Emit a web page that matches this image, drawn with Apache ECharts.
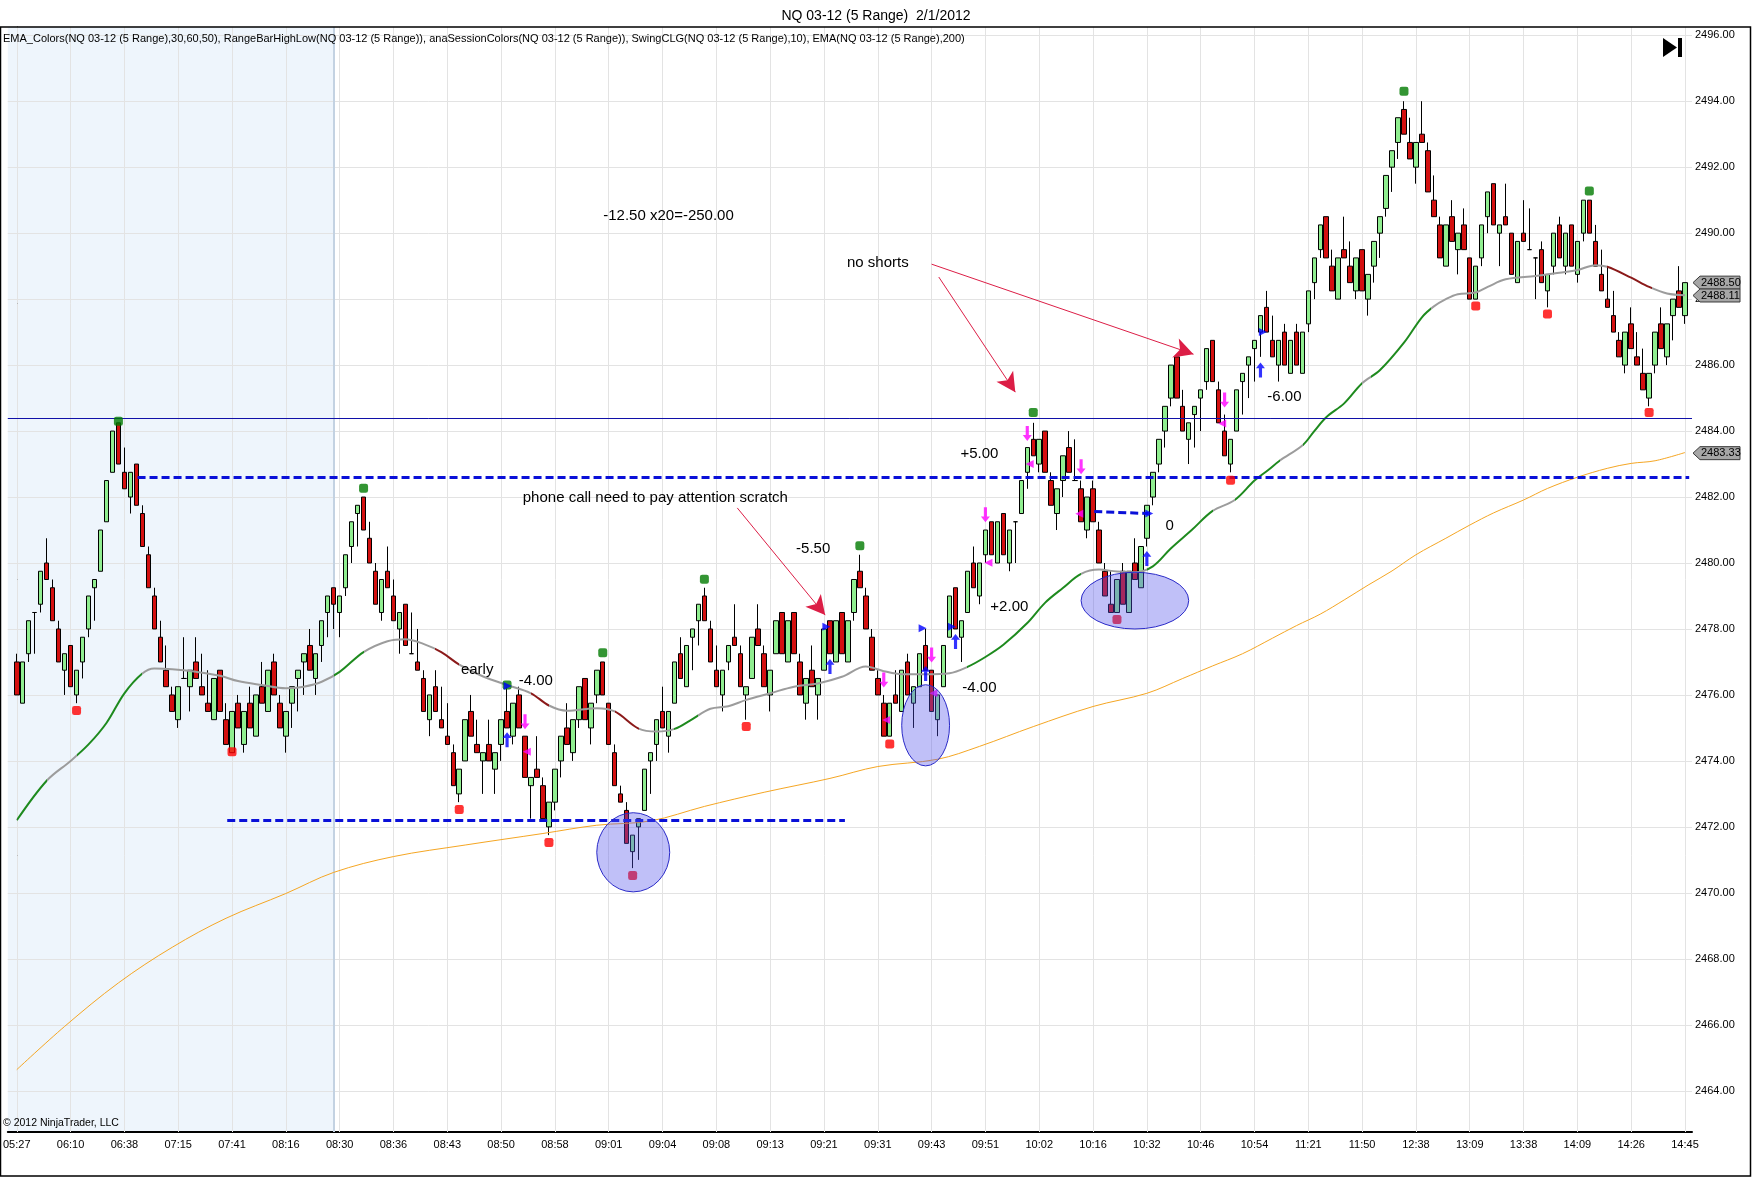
<!DOCTYPE html>
<html><head><meta charset="utf-8">
<script src="https://cdn.jsdelivr.net/npm/echarts@6/dist/echarts.min.js"></script>
<style>html,body{margin:0;padding:0;background:#fff;}#c{width:1752px;height:1177px;}</style>
</head><body><div id="c"></div>
<script>
// ---------- data ----------
const chartTitle = 'NQ 03-12 (5 Range)  2/1/2012';
const indicatorText = 'EMA_Colors(NQ 03-12 (5 Range),30,60,50), RangeBarHighLow(NQ 03-12 (5 Range)), anaSessionColors(NQ 03-12 (5 Range)), SwingCLG(NQ 03-12 (5 Range),10), EMA(NQ 03-12 (5 Range),200)';
const copyrightText = '\u00a9 2012 NinjaTrader, LLC';
const timeLabels = ['05:27','06:10','06:38','07:15','07:41','08:16','08:30','08:36','08:43','08:50','08:58','09:01','09:04','09:08','09:13','09:21','09:31','09:43','09:51','10:02','10:16','10:32','10:46','10:54','11:21','11:50','12:38','13:09','13:38','14:09','14:26','14:45'];
const labelStep = 9;
const priceTicks = [2464,2466,2468,2470,2472,2474,2476,2478,2480,2482,2484,2486,2488,2490,2492,2494,2496];
// [open, close, low, high]
const candles = [
[2477,2476,2476,2477.25],[2475.75,2477,2475.75,2477],[2477.25,2478.25,2477,2478.25],[2478.5,2478.5,2477.25,2478.5],[2478.75,2479.75,2478.5,2479.75],
[2480,2479.5,2479.5,2480.75],[2479.25,2478.25,2478.25,2479.5],[2478,2477,2477,2478.25],[2476.75,2477.25,2476,2477.25],[2477.5,2476.25,2476.25,2477.5],
[2476,2476.75,2475.75,2476.75],[2477,2477.75,2476.5,2477.75],[2478,2479,2477.75,2479],[2479.25,2479.5,2478.25,2479.5],[2479.75,2481,2479.75,2481],
[2481.25,2482.5,2481.25,2482.5],[2482.75,2484,2482.75,2484],[2484.25,2483,2483,2484.25],[2482.75,2482.25,2482.25,2483.5],[2482,2482.75,2481.5,2482.75],
[2483,2481.75,2481.75,2483],[2481.5,2480.5,2480.5,2481.75],[2480.25,2479.25,2479.25,2480.5],[2479,2478,2478,2479.25],[2477.75,2477,2477,2478.25],
[2476.75,2476.25,2476.25,2477.5],[2476,2475.5,2475.5,2476.25],[2475.25,2476.25,2475,2476.25],[2476.5,2476.5,2476.5,2477.75],[2476.25,2476.75,2475.5,2476.75],
[2477,2476.5,2476.5,2477.75],[2476.25,2476,2476,2477.25],[2475.75,2475.5,2475.5,2476.75],[2475.25,2476.5,2475.25,2476.5],[2476.75,2475.5,2475.5,2476.75],
[2475.25,2474.5,2474.5,2475.75],[2474.25,2475.5,2474.25,2475.5],[2475.75,2475,2475,2476],[2474.5,2475.5,2474.25,2475.5],[2475.75,2475,2475,2476.25],
[2474.75,2476,2474.75,2476],[2476.25,2475.75,2475.75,2477],[2475.5,2476.75,2475.5,2476.75],[2477,2476,2476,2477.25],[2475.75,2475,2475,2476],
[2474.75,2475.5,2474.25,2475.5],[2475.75,2476.25,2475,2476.25],[2476.5,2476.75,2475.5,2476.75],[2477,2477.25,2476,2477.25],[2477.5,2476.75,2476.75,2478],
[2476.5,2477.25,2476,2477.25],[2477.5,2478.25,2477,2478.25],[2478.5,2479,2477.75,2479],[2479.25,2478.75,2478,2479.25],[2478.5,2479,2477.75,2479],
[2479.25,2480.25,2479,2480.25],[2480.5,2481.25,2480,2481.25],[2481.5,2481.75,2480.5,2481.75],[2482,2481,2481,2482],[2480.75,2480,2480,2481.25],
[2479.75,2478.75,2478.75,2480],[2478.5,2479.5,2478.25,2479.5],[2479.75,2479.25,2479.25,2480.5],[2479,2478.25,2478.25,2479.5],[2478,2478.5,2477.25,2478.5],
[2478.75,2477.5,2477.5,2478.75],[2477.25,2477.25,2477.25,2478.5],[2477,2476.75,2476.75,2478],[2476.5,2475.5,2475.5,2476.75],[2475.25,2476,2474.75,2476],
[2476.25,2475.5,2475.5,2476.75],[2475.25,2475,2475,2476.25],[2474.75,2474.5,2474.5,2475.75],[2474.25,2473.25,2473.25,2474.5],[2473,2473.75,2472.75,2473.75],
[2474,2475.25,2474,2475.25],[2475.5,2474.75,2474.75,2476],[2474.5,2474.25,2474.25,2475.25],[2474,2474.25,2473,2474.25],[2474.5,2474,2474,2475.25],
[2473.75,2474.25,2473,2474.25],[2474.5,2475.25,2474,2475.25],[2475.5,2475,2475,2476.25],[2474.75,2475.75,2474.5,2475.75],[2476,2475,2475,2476.25],
[2474.75,2473.5,2473.5,2474.75],[2473.25,2473.5,2472.25,2473.5],[2473.75,2473.5,2473.5,2474.75],[2473.25,2472.25,2472.25,2473.5],[2472,2472.75,2471.75,2472.75],
[2472.75,2473.75,2472.5,2473.75],[2474,2474.75,2473.5,2474.75],[2475,2474.5,2474.5,2475.75],[2474.25,2475.25,2474,2475.25],[2475.25,2476.25,2475,2476.25],
[2476.5,2475.25,2475.25,2476.5],[2475,2475.75,2474.5,2475.75],[2476,2476.75,2475.75,2476.75],[2477,2476,2476,2477],[2475.75,2474.5,2474.5,2475.75],
[2474.25,2473.25,2473.25,2474.5],[2473,2472.75,2472.75,2473.25],[2472.5,2471.5,2471.5,2472.75],[2471.25,2471.75,2470.75,2471.75],[2472,2472.25,2471,2472.25],
[2472.5,2473.75,2472.5,2473.75],[2474,2474.25,2473,2474.25],[2474.5,2475.25,2474,2475.25],[2475.5,2475,2475,2476.25],[2474.75,2475.5,2474.25,2475.5],
[2475.75,2477,2475.75,2477],[2477.25,2476.5,2476.5,2477.75],[2476.25,2477.5,2476.25,2477.5],[2477.75,2478,2476.75,2478],[2478.25,2478.75,2477.5,2478.75],
[2479,2478.25,2478.25,2479.25],[2478,2477,2477,2478.25],[2476.75,2476.25,2476.25,2477.5],[2476,2476.75,2475.5,2476.75],[2477,2477.5,2476.75,2477.5],
[2477.75,2477.5,2477.5,2478.75],[2477.25,2476.25,2476.25,2477.5],[2476,2476.25,2475.25,2476.25],[2476.5,2477.75,2476.5,2477.75],[2478,2477.5,2477.5,2478.75],
[2477.25,2476.25,2476.25,2477.5],[2476,2476.75,2475.5,2476.75],[2477.25,2478.25,2477.25,2478.25],[2478.5,2477.25,2477.25,2478.5],[2477,2478.25,2477,2478.25],
[2478.5,2477.25,2477.25,2478.5],[2477,2476,2476,2477.25],[2475.75,2476.5,2475.25,2476.5],[2476.75,2476.25,2476.25,2477.5],[2476,2476.5,2475.25,2476.5],
[2476.75,2478,2476.75,2478],[2478.25,2477.25,2477.25,2478.25],[2477,2478.25,2477,2478.25],[2478.5,2477.25,2477.25,2478.5],[2477,2478.25,2477,2478.25],
[2478.5,2479.5,2478.25,2479.5],[2479.75,2479.25,2479.25,2480.25],[2479,2478,2478,2479.25],[2477.75,2476.75,2476.75,2478],[2476.5,2476,2476,2476.75],
[2475.75,2474.75,2474.75,2476],[2474.75,2475.75,2474.75,2475.75],[2476,2475.75,2475.75,2476.75],[2475.5,2476.75,2475.5,2476.75],[2477,2476,2476,2477.25],
[2475.75,2476.25,2475,2476.25],[2476.25,2477.25,2476.25,2477.25],[2477.5,2476.75,2476.75,2478],[2476.75,2475.5,2475.5,2476.75],[2475.25,2476,2474.75,2476],
[2476.25,2477.5,2476.25,2477.5],[2477.75,2479,2477.75,2479],[2479.25,2478,2478,2479.25],[2477.75,2478.25,2477,2478.25],[2478.5,2479.75,2478.5,2479.75],
[2480,2479.25,2479.25,2480.5],[2479,2480,2478.75,2480],[2480.25,2481,2480,2481],[2481.25,2480.25,2480.25,2481.25],[2480,2481.25,2480,2481.25],
[2481.5,2480.25,2480.25,2481.5],[2480,2481,2479.75,2481],[2481.25,2481.25,2480,2481.25],[2481.5,2482.5,2481.5,2482.5],[2482.75,2483.5,2482.25,2483.5],
[2483.75,2483.25,2483.25,2484.25],[2483,2483.75,2482.75,2483.75],[2484,2482.75,2482.75,2484],[2482.5,2481.75,2481.75,2482.75],[2481.5,2482.25,2481,2482.25],
[2482.5,2483.25,2482,2483.25],[2483.5,2482.75,2482.75,2484],[2482.5,2482.5,2482.5,2483.75],[2482.25,2481.25,2481.25,2482.5],[2481,2482,2480.75,2482],
[2482.25,2481.25,2481.25,2482.5],[2481,2480,2480,2481.25],[2479.75,2479,2479,2480],[2478.75,2478.5,2478.5,2479.75],[2478.5,2479.5,2478.5,2479.5],
[2479.75,2478.75,2478.75,2480],[2478.5,2479.75,2478.5,2479.75],[2480,2479.5,2479.5,2480.75],[2479.25,2480.5,2479.25,2480.5],[2480.75,2481.75,2480.5,2481.75],
[2482,2482.75,2481.75,2482.75],[2483,2483.75,2482.75,2483.75],[2484,2484.75,2483.5,2484.75],[2485,2486,2484.75,2486],[2486.25,2485,2485,2486.25],
[2484.75,2484,2484,2485.25],[2483.75,2484.25,2483,2484.25],[2484.5,2484.75,2483.5,2484.75],[2485,2485.25,2484,2485.25],[2485.5,2486.5,2485.25,2486.5],
[2486.75,2485.5,2485.5,2486.75],[2485.25,2484.25,2484.25,2485.5],[2484,2483.25,2483.25,2484.5],[2483,2483.75,2482.75,2483.75],[2484,2485.25,2484,2485.25],
[2485.5,2485.75,2484.5,2485.75],[2486,2486.25,2485,2486.25],[2486.5,2486.75,2485.5,2486.75],[2487,2487.5,2486.25,2487.5],[2487.75,2487,2487,2488.25],
[2486.75,2486.25,2486.25,2487.5],[2486,2486.75,2485.5,2486.75],[2487,2486,2486,2487.25],[2485.75,2486.75,2485.75,2486.75],[2487,2486,2486,2487.25],
[2485.75,2487,2485.75,2487],[2487.25,2488.25,2487,2488.25],[2488.5,2489.25,2488,2489.25],[2489.5,2490.25,2489.25,2490.25],[2490.5,2489.25,2489.25,2490.5],
[2489,2488.25,2488.25,2489.5],[2488,2489.25,2488,2489.25],[2489.5,2489.25,2489.25,2490.5],[2489,2488.5,2488.5,2489.75],[2488.25,2489.25,2488,2489.25],
[2489.5,2488.25,2488.25,2489.5],[2488,2488.75,2487.5,2488.75],[2489,2489.75,2488.5,2489.75],[2490,2490.5,2489.25,2490.5],[2490.75,2491.75,2490.5,2491.75],
[2492,2492.5,2491.25,2492.5],[2492.75,2493.5,2492.25,2493.5],[2493.75,2493,2493,2494],[2492.75,2492.25,2492.25,2493.5],[2492,2492.75,2491.5,2492.75],
[2493,2492.75,2492.75,2494],[2492.5,2491.25,2491.25,2492.75],[2491,2490.5,2490.5,2491.75],[2490.25,2489.25,2489.25,2490.5],[2489,2490.25,2489,2490.25],
[2490.5,2489.75,2489.75,2491],[2489.5,2490,2488.75,2490],[2490.25,2489.5,2489.5,2490.75],[2489.25,2488,2488,2489.25],[2488,2489,2488,2489],
[2489.25,2490.25,2489,2490.25],[2490.5,2491.25,2490,2491.25],[2491.5,2490.25,2490.25,2491.5],[2490,2490.25,2489,2490.25],[2490.5,2490.25,2490.25,2491.5],
[2490,2488.75,2488.75,2490],[2488.5,2489.75,2488.5,2489.75],[2490,2489.75,2489.75,2491],[2489.5,2489.5,2489.5,2490.75],[2489.25,2489.25,2488,2489.25],
[2489.5,2488.5,2488.5,2489.75],[2488.25,2488.75,2487.75,2488.75],[2489,2490,2488.75,2490],[2490.25,2489.25,2489.25,2490.5],[2489,2490,2488.75,2490],
[2490.25,2489,2489,2490.25],[2488.75,2489.75,2488.5,2489.75],[2490,2491,2489.75,2491],[2491,2490,2490,2491],[2489.75,2489,2489,2490.25],
[2488.75,2488.25,2488.25,2489.5],[2488,2487.75,2487.75,2489],[2487.5,2487,2487,2488.25],[2486.75,2486.25,2486.25,2487],[2486,2487,2485.75,2487],
[2487.25,2486.5,2486.5,2487.75],[2486.25,2486,2486,2487],[2485.75,2485.25,2485.25,2486.5],[2485,2485.75,2484.75,2485.75],[2486,2487,2485.75,2487],
[2487.25,2486.5,2486.5,2487.75],[2486.25,2487.25,2486,2487.25],[2487.5,2488,2486.75,2488],[2488.25,2487.75,2487.75,2489],[2487.5,2488.5,2487.25,2488.5]
];
// EMA_Colors line (bar index, value)
const ema30 = [[0,2472.2],[5,2473.4],[9,2474.0],[12,2474.5],[15,2475.15],[18,2476.05],[21,2476.65],[23,2476.8],[26,2476.78],[30,2476.7],[34,2476.58],[37,2476.42],[41,2476.3],[45,2476.2],[48,2476.25],[51,2476.4],[54,2476.7],[58,2477.3],[62,2477.63],[65,2477.69],[68,2477.55],[71,2477.3],[74,2476.92],[78,2476.56],[82,2476.3],[86,2476.05],[89,2475.68],[92,2475.52],[97,2475.6],[100,2475.5],[104,2474.98],[107,2474.89],[110,2474.97],[113,2475.27],[116,2475.58],[119,2475.66],[122,2475.85],[126,2476.05],[130,2476.25],[134,2476.35],[138,2476.55],[142,2476.86],[145,2476.72],[148,2476.63],[152,2476.63],[156,2476.66],[159,2476.85],[162,2477.15],[165,2477.52],[169,2478.18],[172,2478.8],[175,2479.25],[178,2479.67],[181,2479.8],[184,2479.74],[187,2479.72],[190,2479.9],[193,2480.44],[196.5,2481.0],[200,2481.58],[203.7,2481.91],[207,2482.5],[209.3,2482.82],[211.2,2483.1],[215.1,2483.58],[217,2484.0],[219,2484.42],[222,2484.84],[225,2485.45],[228,2485.85],[232,2486.68],[235,2487.45],[237,2487.78],[239,2488.0],[241,2488.15],[244,2488.2],[246,2488.37],[249,2488.6],[254,2488.7],[258,2488.8],[261,2488.88],[264,2489.03],[266,2488.98],[270,2488.65],[273,2488.37],[276,2488.17],[279,2488.12]];
// colour runs of the EMA_Colors line: [from, to, state]
const emaRuns = [[0,5,'up'],[5,10,'flat'],[10,21,'up'],[21,53,'flat'],[53,58,'up'],[58,70,'flat'],[70,74,'down'],[74,86,'flat'],[86,89,'down'],[89,100,'flat'],[100,104,'down'],[104,110,'flat'],[110,114,'up'],[114,159,'flat'],[159,178,'up'],[178,189,'flat'],[189,200,'up'],[200,203.7,'flat'],[203.7,211.2,'up'],[211.2,215.1,'flat'],[215.1,225,'up'],[225,226.5,'flat'],[226.5,236.5,'up'],[236.5,266,'flat'],[266,273.5,'down'],[273.5,281,'flat']];
const ema200 = [[0,2464.64],[8,2465.95],[17,2467.27],[26,2468.35],[35,2469.23],[45,2469.98],[53,2470.62],[63,2471.1],[75,2471.45],[88,2471.8],[97,2472.05],[106,2472.18],[115,2472.62],[125,2473.05],[136,2473.47],[144,2473.83],[154,2474.05],[161,2474.44],[170,2475.04],[180,2475.65],[189,2476.05],[195,2476.5],[200,2476.88],[205,2477.25],[210,2477.72],[214,2478.1],[218,2478.45],[222,2478.88],[226,2479.33],[230,2479.76],[234,2480.25],[239,2480.75],[243,2481.15],[247,2481.52],[252,2481.91],[256,2482.26],[261,2482.6],[266,2482.87],[270,2483.02],[274,2483.1],[279,2483.35]];
const swingHighs = [[17,2484.3],[58,2482.27],[82,2476.3],[98,2477.28],[115,2479.51],[141,2480.52],[170,2484.56],[232,2494.3],[263,2491.28]];
const swingLows = [[10,2475.53],[36,2474.28],[74,2472.53],[89,2471.53],[103,2470.53],[122,2475.04],[146,2474.51],[184,2478.29],[203,2482.51],[244,2487.79],[256,2487.55],[273,2484.56]];
const longArrows = [[82,2474.64],[136,2476.86],[152,2476.65],[157,2477.62],[189,2480.14],[208,2485.85]];
const shortArrows = [[85,2475.19],[145,2476.45],[153,2477.21],[162,2481.46],[169,2483.93],[178,2482.92],[202,2484.94]];
const longMarks = [[82.1,2476.27],[135.4,2478.07],[151.5,2478.02],[156.4,2478.07],[189.4,2481.5],[208.4,2487.0]];
const shortMarks = [[85.3,2474.28],[145.4,2475.24],[153.3,2476.05],[162.5,2480.01],[169.4,2483.0],[177.7,2481.49],[201.6,2484.23]];
// ellipses: [centre bar, centre price, half-width in bars, half-height in points]
const ellipses = [[103.1,2471.23,6.1,1.2],[152,2475.08,4.0,1.23],[187,2478.86,9.0,0.86]];
const notes = [[109,2490.52,'-12.50 x20=-250.00'],[144,2489.09,'no shorts'],[106.8,2481.97,'phone call need to pay attention scratch'],[133.2,2480.42,'-5.50'],[77,2476.76,'early'],[86.8,2476.42,'-4.00'],[161,2483.3,'+5.00'],[166,2478.67,'+2.00'],[161,2476.21,'-4.00'],[192.8,2481.12,'0'],[212,2485.03,'-6.00']];
const noteArrows = [[[153,2489.06],[196.8,2486.33]],[[154.2,2488.67],[167,2485.18]],[[120.5,2481.67],[135.2,2478.42]]];
const solidLevels = [2484.38];
// dashed segments: [fromBar, toBar, fromPrice, toPrice]
const dashedLevels = [[20.2,279.7,2482.6,2482.6],[35.2,138.5,2472.21,2472.21],[180.2,189.3,2481.56,2481.5]];
const sessionEndBar = 53;
const lastValueTags = [2488.50,2488.11,2483.33];

// ---------- chart ----------
const FONT = '"Liberation Sans", Arial, sans-serif';
const X_MIN = -1.5, X_MAX = 280.17, Y_MIN = 2462.75, Y_MAX = 2496.25;
const runColor = {up:'#1e8a1e', flat:'#9c9c9c', down:'#8b1a1a'};
const labelIdx = timeLabels.map((_, k) => k * labelStep);
const gridColor = '#e3e3e3';

const chart = echarts.init(document.getElementById('c'), null, {renderer:'canvas'});
const arrowPath = 'path://M4,0 L8,5 L5.4,5 L5.4,13 L2.6,13 L2.6,5 L0,5 Z';

const option = {
  animation: false,
  backgroundColor: '#fff',
  textStyle: {fontFamily: FONT},
  title: {text: chartTitle, left: 'center', top: 4, textStyle: {fontFamily: FONT, fontSize: 14, fontWeight: 'normal', color: '#000'}},
  grid: {left: 2, right: 60, top: 27, bottom: 45, containLabel: false},
  xAxis: {
    type: 'value', min: X_MIN, max: X_MAX,
    axisLine: {show: true, onZero: false, lineStyle: {color: '#000', width: 2}},
    axisTick: {show: false},
    splitLine: {show: false},
    axisLabel: {customValues: labelIdx, formatter: v => timeLabels[Math.round(v / labelStep)] || '', fontSize: 11, color: '#000', margin: 7, fontFamily: FONT}
  },
  yAxis: {
    type: 'value', position: 'right', min: Y_MIN, max: Y_MAX, scale: true,
    axisLine: {show: true, lineStyle: {color: '#000', width: 1}},
    axisTick: {show: true, length: 4, customValues: priceTicks, lineStyle: {color: '#000'}},
    splitLine: {show: false},
    axisLabel: {customValues: priceTicks, formatter: v => v.toFixed(2), fontSize: 11, color: '#000', margin: 3, fontFamily: FONT}
  },
  visualMap: {
    type: 'piecewise', show: false, dimension: 0, seriesIndex: 2,
    pieces: emaRuns.map(r => ({gte: r[0], lt: r[1], color: runColor[r[2]]})),
    outOfRange: {color: runColor.flat}
  },
  graphic: [
    {type: 'rect', silent: true, z: 100, shape: {x: 0.5, y: 27, width: 1750, height: 1149}, style: {fill: 'none', stroke: '#000', lineWidth: 1.5}},
    {type: 'text', silent: true, z: 100, x: 3, y: 33, style: {text: indicatorText, font: '11px ' + FONT, fill: '#000'}},
    {type: 'text', silent: true, z: 100, x: 3, y: 1118, style: {text: copyrightText, font: '10.5px ' + FONT, fill: '#000'}},
    {type: 'polygon', silent: true, z: 100, shape: {points: [[1663, 38], [1663, 57], [1677, 47.5]]}, style: {fill: '#000'}},
    {type: 'rect', silent: true, z: 100, shape: {x: 1678, y: 38, width: 4, height: 19}, style: {fill: '#000'}}
  ],
  series: [
    { // 0: background: session shading + grid lines
      type: 'line', data: [], silent: true, z: 0,
      markArea: {silent: true, z: 0, itemStyle: {color: '#eef5fc'}, data: [[{xAxis: X_MIN}, {xAxis: sessionEndBar}]]},
      markLine: {silent: true, z: 1, symbol: ['none', 'none'], label: {show: false}, animation: false,
        lineStyle: {color: gridColor, width: 1, type: 'solid'},
        data: labelIdx.map(v => ({xAxis: v})).concat(priceTicks.map(v => ({yAxis: v})))
          .concat([{xAxis: sessionEndBar, lineStyle: {color: '#c3d2e2', width: 2}}])}
    },
    { // 1: candles
      type: 'candlestick', name: 'NQ 03-12', z: 3, silent: true, barWidth: 5,
      encode: {x: 0, y: [1, 2, 3, 4]},
      data: candles.map((c, i) => [i, c[0], c[1], c[2], c[3]]),
      itemStyle: {color: '#90ee90', color0: '#d41010', borderColor: '#000', borderColor0: '#000', borderColorDoji: '#000', borderWidth: 1}
    },
    { // 2: EMA_Colors
      type: 'line', name: 'EMA_Colors', z: 4, silent: true, showSymbol: false, smooth: 0.35,
      data: ema30, lineStyle: {width: 2}
    },
    { // 3: EMA 200
      type: 'line', name: 'EMA200', z: 4, silent: true, showSymbol: false, smooth: 0.35,
      data: ema200, lineStyle: {width: 1, color: '#f5a623'}, itemStyle: {color: '#f5a623'}
    },
    { // 4: levels
      type: 'line', data: [], silent: true, z: 5,
      markLine: {silent: true, z: 5, symbol: ['none', 'none'], label: {show: false}, animation: false,
        data: solidLevels.map(v => [{coord: [X_MIN, v], lineStyle: {color: '#1010a8', width: 1, type: 'solid'}}, {coord: [X_MAX, v]}])
          .concat(dashedLevels.map(d => [{coord: [d[0], d[2]], lineStyle: {color: '#0a10d8', width: 3, type: [8, 4]}}, {coord: [d[1], d[3]]}]))}
    },
    { // 5: swing highs
      type: 'scatter', z: 6, silent: true, symbol: 'roundRect', symbolSize: 9, data: swingHighs, itemStyle: {color: '#007a00'}
    },
    { // 6: swing lows
      type: 'scatter', z: 6, silent: true, symbol: 'roundRect', symbolSize: 9, data: swingLows, itemStyle: {color: '#ff0000'}
    },
    { // 7: long arrows
      type: 'scatter', z: 6, silent: true, symbol: arrowPath, symbolSize: [9, 15], data: longArrows, itemStyle: {color: '#0000ff'}
    },
    { // 8: short arrows
      type: 'scatter', z: 6, silent: true, symbol: arrowPath, symbolRotate: 180, symbolSize: [9, 15], data: shortArrows, itemStyle: {color: '#ff00ff'}
    },
    { // 9: long marks
      type: 'scatter', z: 6, silent: true, symbol: 'triangle', symbolRotate: -90, symbolSize: 8, data: longMarks, itemStyle: {color: '#0000ff'}
    },
    { // 10: short marks
      type: 'scatter', z: 6, silent: true, symbol: 'triangle', symbolRotate: 90, symbolSize: 8, data: shortMarks, itemStyle: {color: '#ff00ff'}
    },
    { // 11: ellipses
      type: 'custom', z: 8, silent: true, data: ellipses,
      renderItem: (params, api) => {
        const c = api.coord([api.value(0), api.value(1)]);
        const s = api.size([api.value(2), api.value(3)]);
        return {type: 'path', shape: {pathData: 'M0,1 A1,1 0 1,1 2,1 A1,1 0 1,1 0,1 Z', x: c[0] - s[0], y: c[1] - s[1], width: 2 * s[0], height: 2 * s[1], layout: 'cover'},
          style: {fill: 'rgba(80,80,235,0.36)', stroke: '#2a2ac8', lineWidth: 1}};
      }
    },
    { // 12: note texts
      type: 'scatter', z: 9, silent: true, symbolSize: 0,
      data: notes.map(n => ({value: [n[0], n[1]], name: n[2]})),
      label: {show: true, position: 'inside', formatter: '{b}', fontSize: 15, color: '#000', fontFamily: FONT, textBorderWidth: 0, opacity: 1}
    },
    { // 13: note arrows
      type: 'line', data: [], silent: true, z: 9,
      markLine: {silent: true, z: 9, symbol: ['none', 'arrow'], symbolSize: [15, 19], label: {show: false}, animation: false,
        lineStyle: {color: '#dc1e46', width: 1, type: 'solid'},
        data: noteArrows.map(a => [{coord: a[0]}, {coord: a[1]}])}
    },
    { // 14: last value tags
      type: 'custom', z: 10, silent: true, clip: false,
      data: lastValueTags.map(v => [X_MAX, v]),
      renderItem: (params, api) => {
        const v = api.value(1);
        const p = api.coord([X_MAX, v]);
        const x = p[0], y = p[1];
        return {type: 'group', children: [
          {type: 'polygon', shape: {points: [[x + 1, y], [x + 8, y - 6.5], [x + 48, y - 6.5], [x + 48, y + 6.5], [x + 8, y + 6.5]]}, style: {fill: '#a6a6a6', stroke: '#3a3a3a', lineWidth: 1}},
          {type: 'text', style: {text: v.toFixed(2), x: x + 9, y: y, verticalAlign: 'middle', align: 'left', font: '11px ' + FONT, fill: '#000'}}
        ]};
      }
    }
  ]
};
chart.setOption(option);
</script>
</body></html>
